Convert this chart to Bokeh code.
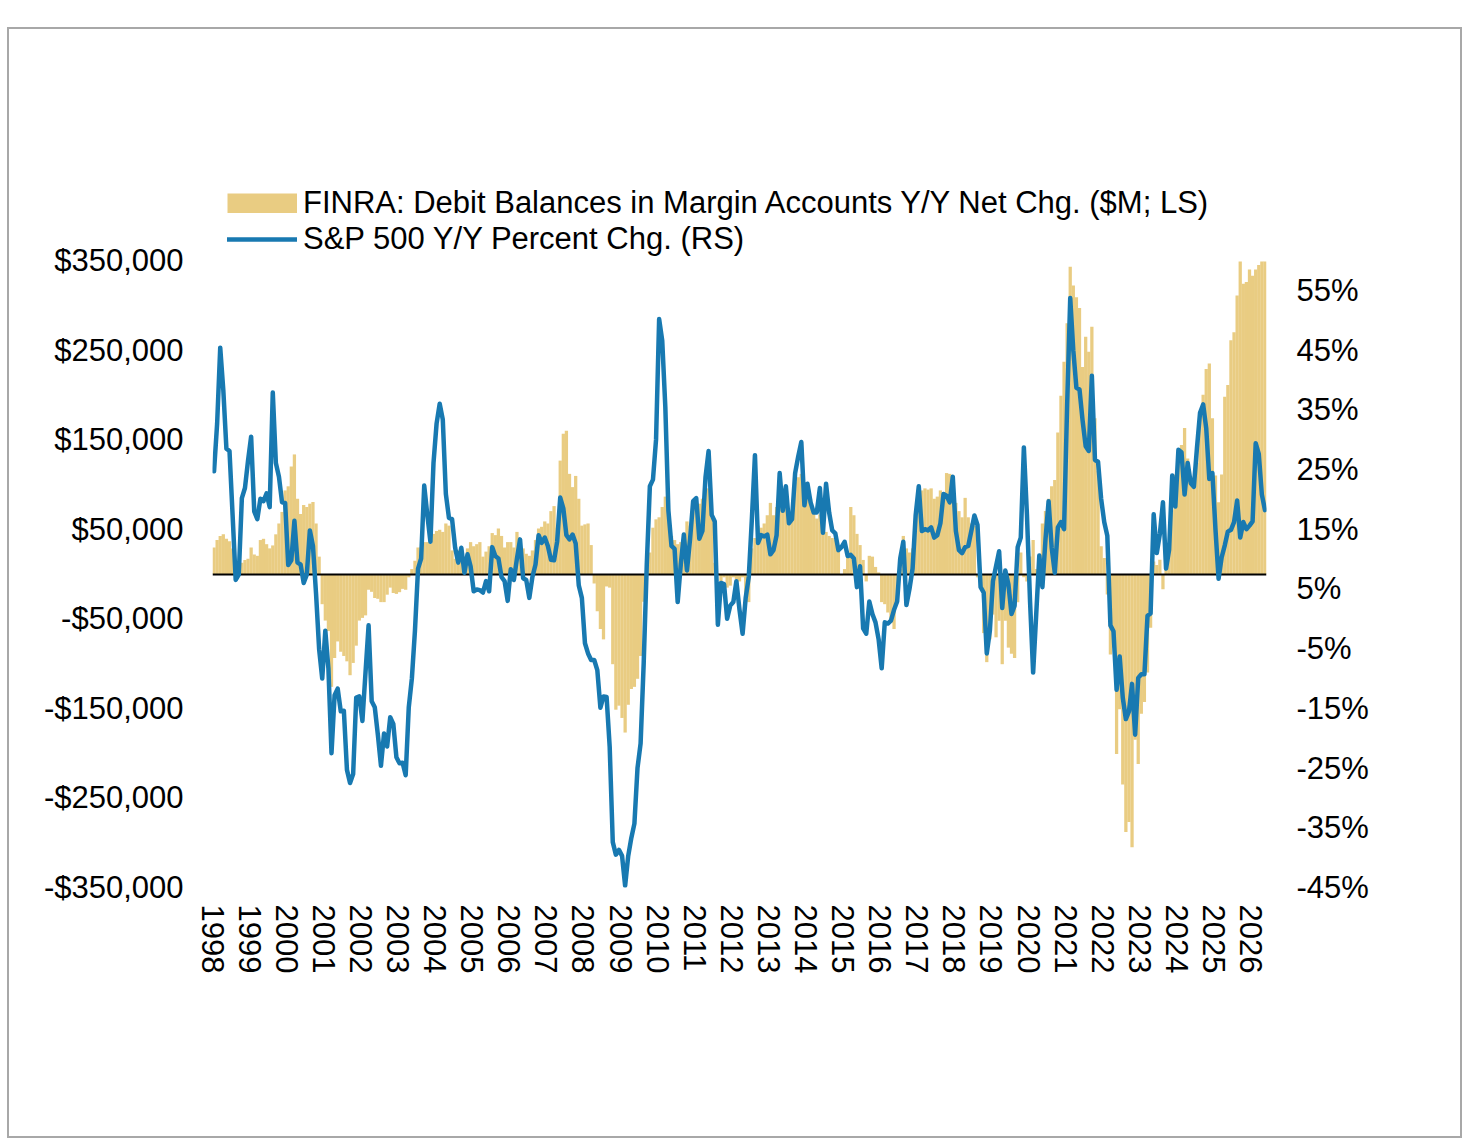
from bokeh.plotting import figure
from bokeh.models import (Range1d, LinearAxis, FixedTicker, Legend, LegendItem,
                          ColumnDataSource)
from bokeh.embed import file_html
from bokeh.resources import INLINE

START_YEAR = 1998

# FINRA debit balances Y/Y net change, thousands of $M (monthly from Jan 1998)
debit_k = [
    29.6, 37.9, 42.5, 44.3, 39.3, 36.5, 28.6, 10, 8, 12.5, 15.7, 17.1,
    29.6, 21.7, 20.3, 37.9, 39.3, 33.3, 28.6, 31.9, 44.3, 56.4, 69.3, 93.3,
    97.9, 120, 133.5, 84, 67, 77, 74.8, 78.5, 80.4, 56.4, 19.4, -33.7,
    -52, -63.7, -126, -93.8, -75.3, -86.8, -91.5, -97.5, -113, -99.3, -80, -52,
    -49, -46.2, -17.6, -19.9, -26.8, -27.7, -31.4, -31.4, -23.1, -15.2, -21.2, -22.2,
    -20.3, -16.6, -17.6, -3.7, 5.5, 14.8, 29.6, 29.6, 35.6, 35.6, 34, 44.8,
    48, 49.4, 47, 56.4, 54, 26.3, 17, 26.3, 21.7, 19.4, 28.6, 35.6,
    31, 33.3, 35.6, 19.4, 25, 31, 45.7, 43.4, 50.8, 42.5, 29.6, 35.6,
    35.6, 29.6, 47, 37.9, 28.6, 22.6, 20.3, 26.3, 37.9, 50.8, 52.7, 58.7,
    56.4, 70.2, 75.8, 51.7, 126.6, 156.6, 159.8, 111.8, 97, 109.5, 84, 54,
    55.4, 56.4, 32.3, -10.6, -41.6, -61.4, -73, -13.9, -15.2, -100.7, -151.5, -147,
    -160.7, -177, -146, -128.4, -126, -117, -91.5, -31, 10, 24, 51.7, 61,
    63.3, 74.8, 86.4, 74, 42.5, 37.9, 33.3, 35.6, 37.9, 58.7, 54, 77,
    79.4, 78.5, 84, 93.3, 95.6, 63, 12.5, 1, -8.3, -3.7, -15.2, -13,
    -3.7, -6, -8.3, -3.7, -26, -31.4, 28.6, 40.2, 54, 51.7, 56.4, 65.6,
    79.4, 65.6, 74.8, 77, 84, 74.8, 65.6, 61, 102.5, 108, 111.8, 102.5,
    97.9, 84, 70.2, 61.9, 66.5, 56.4, 47, 42.5, 40.2, 37.9, 28.6, -1.4,
    5.5, 19.4, 74.8, 65.6, 44.8, 32.3, 15.7, -8.3, 20.3, 19.4, 7.9, 1.8,
    -31.4, -33.7, -43, -54.5, -61.4, -31.4, 5.5, 42.5, 28.6, 24, 28.6, 61,
    88.7, 93.3, 95.6, 94.2, 95.6, 84, 86.4, 93.3, 89.6, 112.7, 111.8, 102.5,
    79.4, 70.2, 63.3, 85, 63.3, 56.4, 54, -3.7, -13, -66, -98.4, -73,
    -45.3, -70.7, -52.2, -100.7, -52.2, -82.2, -89, -93.8, -31.4, 24, -3.7, -8.3,
    19.4, 37.9, 5.5, 19.4, 56.4, 70.2, 84, 98, 105, 158, 199, 237,
    280, 343, 322, 309, 297, 231, 265, 248, 276, 174, 115, 31,
    18, -23, -90, -82, -201, -151, -235, -288, -277, -305, -185, -212,
    -156, -143, -110, -60, 14, 10, 16, -17, 18, 27, 72, 111,
    135, 144, 163, 129, 109, 96, 124, 179, 200, 229, 235, 174,
    110, 80, 111, 198, 211, 261, 270, 311, 349, 324, 326, 340,
    333, 340, 345, 349, 349,
]

# S&P 500 Y/Y percent change (monthly from Jan 1998)
spx_pct = [
    24.7, 32.7, 45.4, 38.3, 28.5, 28.1, 17.4, 6.5, 7.4, 20.2, 21.9, 26.5,
    30.5, 18.0, 16.7, 20.1, 19.7, 21.0, 18.7, 37.9, 26.1, 23.8, 19.5, 19.4,
    9.0, 9.8, 16.4, 9.4, 9.1, 6.0, 7.4, 14.8, 12.2, 4.2, -5.1, -10.0,
    -2.0, -8.3, -22.5, -12.8, -11.7, -15.5, -15.4, -25.3, -27.5, -26.0, -13.2, -13.0,
    -17.1, -9.0, -1.1, -13.8, -14.8, -19.4, -24.6, -19.2, -21.4, -16.5, -17.6, -23.2,
    -24.2, -24.1, -26.2, -14.8, -10.0, -2.0, 8.4, 10.1, 22.3, 17.4, 12.9, 26.1,
    32.7, 36.0, 33.4, 20.9, 16.9, 16.7, 11.9, 9.4, 11.9, 7.7, 10.8, 8.8,
    4.6, 4.9, 4.8, 4.4, 6.3, 4.6, 12.0, 10.5, 10.1, 7.0, 6.3, 3.0,
    8.3, 6.5, 10.1, 13.3, 6.8, 6.5, 3.5, 7.0, 9.1, 14.0, 12.7, 13.6,
    12.2, 9.9, 9.8, 12.9, 20.3, 18.5, 14.0, 13.3, 14.1, 12.6, 5.6, 3.5,
    -4.1, -5.8, -6.9, -6.9, -8.6, -14.9, -13.0, -13.1, -21.4, -37.4, -39.5, -38.7,
    -39.7, -44.7, -39.7, -36.7, -34.3, -25.0, -20.9, -7.5, 9.1, 22.2, 23.3, 30.0,
    50.2, 46.6, 35.5, 18.1, 12.2, 11.7, 2.8, 9.1, 14.1, 8.1, 13.3, 19.7,
    20.2, 13.4, 14.7, 23.7, 28.1, 17.4, 16.3, -1.0, 6.0, 5.8, 0.0, 2.2,
    2.8, 6.3, 1.5, -2.5, 3.5, 7.0, 16.7, 27.4, 12.7, 14.0, 13.8, 14.1,
    10.8, 11.5, 14.0, 24.4, 18.1, 22.2, 16.0, 16.7, 24.4, 27.2, 29.6, 19.0,
    22.6, 19.5, 17.8, 17.8, 21.9, 14.4, 22.6, 17.8, 14.8, 14.3, 11.5, 12.0,
    12.9, 10.5, 10.7, 10.1, 5.3, 8.8, -1.6, -2.5, 2.9, 0.8, -0.6, -3.4,
    -8.3, -0.6, -0.8, -0.3, 1.5, 2.9, 10.1, 12.9, 2.3, 5.0, 8.4, 17.4,
    22.2, 14.7, 15.0, 14.8, 15.3, 13.6, 14.0, 16.0, 20.9, 20.6, 19.5, 23.8,
    14.7, 11.5, 11.0, 12.0, 12.2, 14.7, 17.3, 15.7, 5.3, 4.4, -5.8, -2.0,
    6.3, 8.8, 11.3, 1.8, 8.1, 5.8, 0.8, 2.2, 12.0, 13.6, 28.7, 17.4,
    2.9, -9.0, 0.8, 10.6, 5.3, 13.3, 19.7, 11.9, 7.7, 15.3, 16.2, 15.0,
    35.8, 53.7, 44.9, 38.7, 38.4, 33.2, 28.9, 28.1, 40.7, 26.6, 26.3, 20.1,
    16.2, 13.9, -1.1, -2.1, -11.9, -6.3, -13.2, -16.8, -15.5, -10.9, -19.4, -9.9,
    -9.3, -9.3, 0.5, 0.9, 17.5, 11.0, 14.2, 19.5, 8.4, 11.6, 24.0, 18.8,
    28.3, 27.9, 20.8, 26.1, 22.7, 22.1, 28.6, 34.5, 35.9, 31.9, 23.4, 24.4,
    14.9, 6.7, 10.3, 12.3, 14.6, 14.9, 16.2, 19.8, 13.6, 16.2, 15.0, 15.6,
    16.3, 29.4, 27.6, 20.8, 18.2,
]

year_ticks = list(range(1998, 2027))
left_ticks = [-350000, -250000, -150000, -50000, 50000, 150000, 250000, 350000]
right_ticks = [-45, -35, -25, -15, -5, 5, 15, 25, 35, 45, 55]

bar_label = "FINRA: Debit Balances in Margin Accounts Y/Y Net Chg. ($M; LS)"
line_label = "S&P 500 Y/Y Percent Chg. (RS)"

GOLD = "#E9CC82"
BLUE = "#1879B1"
FONT = "Liberation Sans"
FS = "31px"

# value axis extents: tick span -350k..350k / -45%..60%, plus headroom that holds the legend
LEFT_MIN, LEFT_TICK_MAX = -350000, 350000
RIGHT_MIN, RIGHT_TICK_MAX = -45, 60
AXIS_PX, HEADROOM_PX = 627, 80
left_max = LEFT_TICK_MAX + HEADROOM_PX * (LEFT_TICK_MAX - LEFT_MIN) / AXIS_PX
right_max = RIGHT_TICK_MAX + HEADROOM_PX * (RIGHT_TICK_MAX - RIGHT_MIN) / AXIS_PX

n = len(debit_k)
xs = [START_YEAR + (i + 0.5) / 12 for i in range(n)]
src = ColumnDataSource(dict(x=xs, debit=[v * 1000 for v in debit_k], spx=spx_pct[:n]))
# source for the legend-only swatch (no visible mark)
swatch_src = ColumnDataSource(dict(x=[float("nan")], y=[float("nan")]))

p = figure(width=1455, height=1111, output_backend="svg", toolbar_location=None,
           x_range=Range1d(START_YEAR, START_YEAR + n / 12),
           y_range=Range1d(LEFT_MIN, left_max),
           min_border_left=203, min_border_right=198,
           min_border_top=151, min_border_bottom=253)
p.styles = {"margin-left": "7px", "margin-top": "27px",
            "border": "2px solid #A8A8A8", "box-sizing": "border-box"}
p.extra_y_ranges = {"pct": Range1d(RIGHT_MIN, right_max)}
p.outline_line_color = None
p.xgrid.visible = False
p.ygrid.visible = False
p.background_fill_color = "white"
p.border_fill_color = "white"

bars = p.vbar(x="x", top="debit", bottom=0, width=1.06 / 12, source=src,
              fill_color=GOLD, line_color=None)
p.hspan(y=0, line_color="black", line_width=2)
ln = p.line(x="x", y="spx", source=src, y_range_name="pct", line_color=BLUE,
            line_width=4.5, line_join="round", line_cap="round")
swatch = p.line(x="x", y="y", source=swatch_src, line_color=GOLD,
                line_width=20, line_cap="butt")

# axes
xa = p.xaxis[0]
xa.ticker = FixedTicker(ticks=year_ticks)
xa.major_label_orientation = "vertical"
xa.major_label_overrides = {t: str(t) for t in year_ticks}
ya = p.yaxis[0]
ya.ticker = FixedTicker(ticks=left_ticks)
ya.major_label_overrides = {t: ("-" if t < 0 else "") + "$" + f"{abs(t):,}" for t in left_ticks}
ra = LinearAxis(y_range_name="pct", ticker=FixedTicker(ticks=right_ticks))
ra.major_label_overrides = {t: f"{t}%" for t in right_ticks}
p.add_layout(ra, "right")

for ax, st in ((xa, 17), (ya, 29), (ra, 30)):
    ax.axis_line_color = None
    ax.major_tick_line_color = None
    ax.minor_tick_line_color = None
    ax.major_tick_out = 0
    ax.major_tick_in = 0
    ax.major_label_standoff = st
    ax.major_label_text_font = FONT
    ax.major_label_text_font_size = FS
    ax.major_label_text_color = "black"

legend = Legend(items=[LegendItem(label=bar_label, renderers=[swatch]),
                       LegendItem(label=line_label, renderers=[ln])],
                location=(15, 630), orientation="vertical",
                glyph_width=70, glyph_height=20, label_height=30,
                label_standoff=6, spacing=0, padding=0, margin=0,
                border_line_color=None, background_fill_alpha=0,
                label_text_font=FONT, label_text_font_size=FS,
                label_text_color="black")
p.add_layout(legend)

open("out.html", "w").write(file_html(p, INLINE))
